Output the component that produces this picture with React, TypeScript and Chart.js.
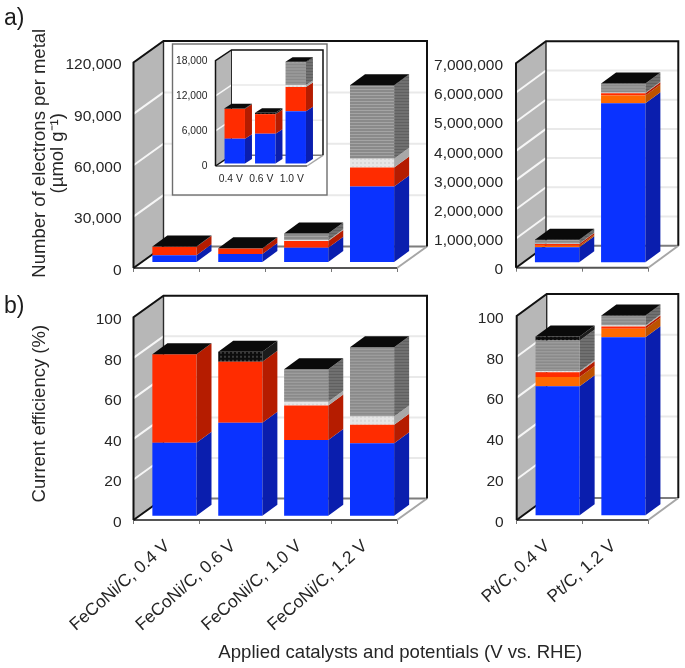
import React, { useEffect, useRef } from "react";
import { Chart, registerables } from "chart.js";

Chart.register(...registerables);

// ---- data ----
const seriesNames = ["Blue", "Orange", "Red", "Light", "Grey", "Black"];

const feCoNiCategories = ["FeCoNi/C, 0.4 V", "FeCoNi/C, 0.6 V", "FeCoNi/C, 1.0 V", "FeCoNi/C, 1.2 V"];
const ptCategories = ["Pt/C, 0.4 V", "Pt/C, 1.2 V"];
const insetCategories = ["0.4 V", "0.6 V", "1.0 V"];

const electronsFeBlue = [4000, 4700, 8300, 44150];
const electronsFeOrange = [0, 0, 0, 0];
const electronsFeRed = [4900, 3200, 3900, 11080];
const electronsFeLight = [0, 0, 500, 5060];
const electronsFeGrey = [0, 0, 3900, 42590];
const electronsFeBlack = [100, 200, 100, 300];

const electronsPtBlue = [514000, 5447000];
const electronsPtOrange = [50000, 263000];
const electronsPtRed = [60000, 80000];
const electronsPtLight = [10000, 10000];
const electronsPtGrey = [120000, 310000];
const electronsPtBlack = [12000, 12000];

const insetBlue = [4245, 5095, 8950];
const insetOrange = [0, 0, 0];
const insetRed = [5095, 3340, 4130];
const insetLight = [0, 0, 350];
const insetGrey = [0, 0, 3850];
const insetBlack = [100, 220, 100];

const efficiencyFeBlue = [36, 45.9, 37.3, 35.7];
const efficiencyFeOrange = [0, 0, 0, 0];
const efficiencyFeRed = [43.6, 30.1, 17.1, 9.2];
const efficiencyFeLight = [0, 0, 1.85, 4.1];
const efficiencyFeGrey = [0, 0, 15.95, 34];
const efficiencyFeBlack = [0.1, 4.9, 0.1, 0.1];

const efficiencyPtBlue = [63.3, 87.3];
const efficiencyPtOrange = [4.5, 4.1];
const efficiencyPtRed = [2.3, 1.2];
const efficiencyPtLight = [0.6, 0.5];
const efficiencyPtGrey = [15, 4.6];
const efficiencyPtBlack = [2, 0.2];

const electronsFeTicks = { max: 120000, step: 30000 };
const electronsPtTicks = { max: 7000000, step: 1000000 };
const insetTicks = { max: 18000, step: 6000 };
const efficiencyTicks = { max: 100, step: 20 };

// ---- styling ----
const SANS = "'Liberation Sans', Arial, sans-serif";
const INK = "#262626";
const W = 685;
const H = 668;

function pattern(size: number, paint: (c: CanvasRenderingContext2D) => void): CanvasPattern {
  const cv = document.createElement("canvas");
  cv.width = size;
  cv.height = size;
  const c = cv.getContext("2d")!;
  paint(c);
  return c.createPattern(cv, "repeat")!;
}
function stripes(a: string, b: string) {
  return pattern(3, (c) => {
    c.fillStyle = a;
    c.fillRect(0, 0, 3, 3);
    c.fillStyle = b;
    c.fillRect(0, 2, 3, 1);
  });
}
function dots(bg: string, fg: string) {
  return pattern(4, (c) => {
    c.fillStyle = bg;
    c.fillRect(0, 0, 4, 4);
    c.fillStyle = fg;
    c.fillRect(0, 0, 2, 2);
  });
}

type Geo = {
  dx: number; dy: number; // depth of the box
  ox: number; oy: number; // bar front relative to axis plane
  bx: number; by: number; // bar depth
  lw: number;
  box?: number[];
};

function solidFaces() {
  return {
    Blue: { front: "#0a32ff", side: "#0a1eae" },
    Orange: { front: "#ff6a00", side: "#bd5200" },
    Red: { front: "#ff2c00", side: "#b51c00" },
    Light: { front: dots("#e6e6e6", "#d8d8d8"), side: "#a8a8a8" },
    Grey: { front: stripes("#8a8a8a", "#a4a4a4"), side: stripes("#707070", "#606060") },
    Black: { front: dots("#0c0c0c", "#3a3a3a"), side: "#1c1c1c" },
  } as Record<string, { front: any; side: any }>;
}

function box3d(geo: Geo, faces: Record<string, { front: any; side: any }>) {
  const line = (c: CanvasRenderingContext2D, pts: number[][], color: string, width: number) => {
    c.beginPath();
    pts.forEach((p, i) => (i ? c.lineTo(p[0], p[1]) : c.moveTo(p[0], p[1])));
    c.strokeStyle = color;
    c.lineWidth = width;
    c.lineJoin = "miter";
    c.stroke();
  };
  const poly = (c: CanvasRenderingContext2D, pts: number[][], fill: any) => {
    c.beginPath();
    pts.forEach((p, i) => (i ? c.lineTo(p[0], p[1]) : c.moveTo(p[0], p[1])));
    c.closePath();
    c.fillStyle = fill;
    c.fill();
  };
  return {
    id: "box3d",
    // The axis titles are placed from the scale box, so the box is moved and
    // widened here, once the tick pixels have already been configured.
    afterLayout(chart: any) {
      const sh = chart.options.plugins.box3d || {};
      const y = chart.scales.y;
      const x = chart.scales.x;
      y.top += (sh.titleShiftY || 0) - 200;
      y.bottom += (sh.titleShiftY || 0) + 200;
      x.left += (sh.titleShiftX || 0) - 300;
      x.right += (sh.titleShiftX || 0) + 300;
    },
    beforeDraw(chart: any) {
      if (!geo.box) return;
      const c = chart.ctx;
      const [x, y, w, h] = geo.box;
      c.save();
      c.fillStyle = "#ffffff";
      c.fillRect(x, y, w, h);
      c.strokeStyle = "#6e6e6e";
      c.lineWidth = 1.4;
      c.strokeRect(x, y, w, h);
      c.restore();
    },
    beforeDatasetsDraw(chart: any) {
      const c: CanvasRenderingContext2D = chart.ctx;
      const { left: L, right: R, top: T, bottom: B } = chart.chartArea;
      const { dx, dy, lw } = geo;
      const yS = chart.scales.y;
      c.save();
      poly(c, [[L, T], [L + dx, T - dy], [L + dx, B - dy], [L, B]], "#b7b7b7");
      yS.ticks.forEach((t: any) => {
        if (t.value === 0 || t.value === yS.max) return;
        const y = yS.getPixelForValue(t.value);
        line(c, [[L, y], [L + dx, y - dy]], "#f6f6f6", lw);
        line(c, [[L + dx, y - dy], [R + dx, y - dy]], "#e9e9e9", lw);
      });
      line(c, [[L + dx, B - dy], [R + dx, B - dy]], "#7d7d7d", lw);
      line(c, [[R, B], [R + dx, B - dy]], "#a6a6a6", lw);
      line(c, [[L, B], [R, B]], "#555555", lw);
      line(c, [[L + dx, T - dy], [L + dx, B - dy]], "#2a2a2a", lw * 0.7);
      line(c, [[L, B], [L, T], [L + dx, T - dy], [R + dx, T - dy], [R + dx, B - dy]], "#111111", lw);
      line(c, [[L, B], [L + dx, B - dy]], "#111111", lw);
      c.restore();
    },
    beforeDatasetDraw(chart: any) {
      chart.ctx.save();
      chart.ctx.translate(geo.ox, geo.oy);
    },
    afterDatasetDraw(chart: any) {
      chart.ctx.restore();
    },
    afterDatasetsDraw(chart: any) {
      const c: CanvasRenderingContext2D = chart.ctx;
      const { ox, oy, bx, by } = geo;
      c.save();
      chart.data.datasets.forEach((ds: any, di: number) => {
        const meta = chart.getDatasetMeta(di);
        const face = faces[ds.label];
        meta.data.forEach((el: any, i: number) => {
          if (!ds.data[i]) return;
          const p = el.getProps(["x", "y", "base", "width"], true);
          const r = p.x + p.width / 2 + ox;
          const l = p.x - p.width / 2 + ox;
          const top = p.y + oy;
          const bot = p.base + oy;
          poly(c, [[r, top], [r + bx, top - by], [r + bx, bot - by], [r, bot]], face.side);
          if (di === chart.data.datasets.length - 1) {
            poly(c, [[l, top], [l + bx, top - by], [r + bx, top - by], [r, top]], "#0a0a0a");
          }
        });
      });
      c.restore();
    },
  };
}

type Panel = {
  categories: string[];
  series: number[][];
  ticks: { max: number; step: number };
  left: number; right: number; top: number; bottom: number;
  geo: Geo;
  tickSize: number;
  tickPad: number;
  labelShift: number;
  showXLabels: boolean;
  xRotation: number;
  xPad: number;
  xSize: number;
  xShift: number;
  xTicks: boolean;
  yTitle?: string[];
  yTitleShift?: number;
  xTitle?: string;
  xTitleShift?: number;
};

const panels: Panel[] = [
  {
    categories: feCoNiCategories,
    series: [electronsFeBlue, electronsFeOrange, electronsFeRed, electronsFeLight, electronsFeGrey, electronsFeBlack],
    ticks: electronsFeTicks,
    left: 133.5, right: 397, top: 62.5, bottom: 268,
    geo: { dx: 30, dy: 21.5, ox: 8, oy: -6, bx: 15, by: 11, lw: 2 },
    tickSize: 15.5, tickPad: 12, labelShift: 2.5,
    showXLabels: false, xRotation: 0, xPad: 0, xSize: 15.5, xShift: 0, xTicks: true,
    yTitle: ["Number of electrons per metal", "(µmol g⁻¹)"],
    yTitleShift: -12,
  },
  {
    categories: ptCategories,
    series: [electronsPtBlue, electronsPtOrange, electronsPtRed, electronsPtLight, electronsPtGrey, electronsPtBlack],
    ticks: electronsPtTicks,
    left: 516, right: 648.3, top: 63.3, bottom: 267.7,
    geo: { dx: 30, dy: 22, ox: 8, oy: -5.5, bx: 15, by: 11, lw: 2 },
    tickSize: 15.5, tickPad: 13, labelShift: 2.5,
    showXLabels: false, xRotation: 0, xPad: 0, xSize: 15.5, xShift: 0, xTicks: true,
  },
  {
    categories: insetCategories,
    series: [insetBlue, insetOrange, insetRed, insetLight, insetGrey, insetBlack],
    ticks: insetTicks,
    left: 215.5, right: 307, top: 60.7, bottom: 166,
    geo: { dx: 16, dy: 10.7, ox: 4, oy: -2.5, bx: 7, by: 4.5, lw: 1.5, box: [172.5, 44, 154.5, 151] },
    tickSize: 10.3, tickPad: 8, labelShift: 0,
    showXLabels: true, xRotation: 0, xPad: 7, xSize: 10.3, xShift: 0, xTicks: false,
  },
  {
    categories: feCoNiCategories,
    series: [efficiencyFeBlue, efficiencyFeOrange, efficiencyFeRed, efficiencyFeLight, efficiencyFeGrey, efficiencyFeBlack],
    ticks: efficiencyTicks,
    left: 133.5, right: 397, top: 317.3, bottom: 520,
    geo: { dx: 30, dy: 21.5, ox: 8, oy: -4.3, bx: 15, by: 11, lw: 2 },
    tickSize: 15.5, tickPad: 12, labelShift: 2.5,
    showXLabels: true, xRotation: 41.5, xPad: 12, xSize: 17.4, xShift: 1, xTicks: true,
    yTitle: ["Current efficiency (%)"],
    yTitleShift: -5,
    xTitle: "Applied catalysts and potentials (V vs. RHE)",
    xTitleShift: 135,
  },
  {
    categories: ptCategories,
    series: [efficiencyPtBlue, efficiencyPtOrange, efficiencyPtRed, efficiencyPtLight, efficiencyPtGrey, efficiencyPtBlack],
    ticks: efficiencyTicks,
    left: 516.7, right: 648.3, top: 316, bottom: 520,
    geo: { dx: 30, dy: 22, ox: 8, oy: -4.7, bx: 15, by: 11, lw: 2 },
    tickSize: 15.5, tickPad: 13, labelShift: 2.5,
    showXLabels: true, xRotation: 41.5, xPad: 12, xSize: 17.4, xShift: -2, xTicks: true,
  },
];

function makeChart(canvas: HTMLCanvasElement, p: Panel) {
  const faces = solidFaces();
  return new Chart(canvas, {
    type: "bar",
    data: {
      labels: p.categories,
      datasets: p.series.map((values, i) => ({
        label: seriesNames[i],
        data: values,
        backgroundColor: faces[seriesNames[i]].front,
        borderWidth: 0,
        barPercentage: 0.67,
        categoryPercentage: 1,
        clip: false as any,
        stack: "all",
      })),
    },
    plugins: [box3d(p.geo, faces) as any],
    options: {
      animation: false,
      responsive: false,
      layout: {
        autoPadding: false,
        padding: { left: 0, top: p.top, right: W - p.right, bottom: 0 },
      },
      plugins: {
        legend: { display: false },
        tooltip: { enabled: false },
        box3d: { titleShiftY: p.yTitleShift || 0, titleShiftX: p.xTitleShift || 0 },
      } as any,
      scales: {
        x: {
          stacked: true,
          afterFit: (s: any) => {
            s.height = H - p.bottom;
          },
          border: { display: false },
          grid: {
            display: true,
            drawOnChartArea: false,
            drawTicks: p.xTicks,
            tickLength: 4,
            tickColor: "#777777",
            tickWidth: 1,
          },
          ticks: {
            display: p.showXLabels,
            autoSkip: false,
            minRotation: p.xRotation,
            maxRotation: p.xRotation,
            padding: p.xPad,
            labelOffset: p.xShift,
            color: INK,
            font: { family: SANS, size: p.xSize },
          },
          title: {
            display: !!p.xTitle,
            text: p.xTitle || "",
            color: INK,
            padding: { top: 0, bottom: 5 },
            font: { family: SANS, size: 18.6, lineHeight: 1.05 },
          },
        },
        y: {
          stacked: true,
          min: 0,
          max: p.ticks.max,
          afterFit: (s: any) => {
            s.width = p.left;
          },
          border: { display: false },
          grid: { display: false, drawTicks: false },
          ticks: {
            stepSize: p.ticks.step,
            padding: p.tickPad,
            labelOffset: p.labelShift,
            color: INK,
            font: { family: SANS, size: p.tickSize },
            callback: (v: any) => Number(v).toLocaleString("en-US"),
          },
          title: {
            display: !!p.yTitle,
            text: p.yTitle || "",
            color: INK,
            padding: { top: 31, bottom: 0 },
            font: { family: SANS, size: 18.5, lineHeight: 0.97 },
          },
        },
      },
    },
  });
}

const layer: React.CSSProperties = { position: "absolute", left: 0, top: 0, width: W, height: H };
const panelLetter: React.CSSProperties = {
  position: "absolute",
  left: 4,
  fontFamily: SANS,
  fontSize: 23,
  lineHeight: "26px",
  color: "#1c1c1c",
};

export default function App() {
  const refs = useRef<(HTMLCanvasElement | null)[]>([]);
  useEffect(() => {
    const charts = panels.map((p, i) => makeChart(refs.current[i]!, p));
    return () => charts.forEach((c) => c.destroy());
  }, []);
  return (
    <div style={{ ...layer, background: "#ffffff", overflow: "hidden", filter: "blur(0.4px)" }}>
      {panels.map((_, i) => (
        <canvas
          key={i}
          ref={(el) => {
            refs.current[i] = el;
          }}
          width={W}
          height={H}
          style={{ ...layer, display: "block" }}
        />
      ))}
      <div style={{ ...panelLetter, top: 4 }}>a)</div>
      <div style={{ ...panelLetter, top: 292 }}>b)</div>
    </div>
  );
}
